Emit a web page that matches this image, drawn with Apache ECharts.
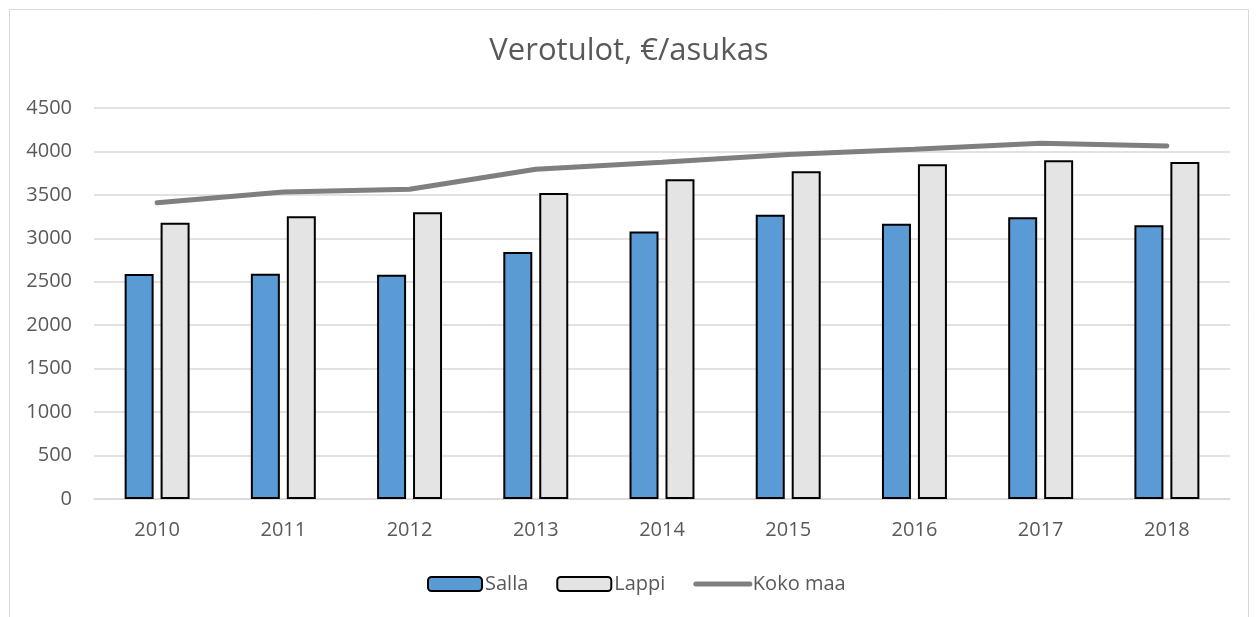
<!DOCTYPE html>
<html>
<head>
<meta charset="utf-8">
<script src="https://cdn.jsdelivr.net/npm/echarts@6/dist/echarts.min.js"></script>
<style>
  html, body { margin: 0; padding: 0; background: #fff; }
  #chart { width: 1258px; height: 617px; }
</style>
</head>
<body>
<div id="chart"></div>
<script>
// 数据
const years = ['2010', '2011', '2012', '2013', '2014', '2015', '2016', '2017', '2018']
const salla = [2590, 2592, 2581, 2842, 3080, 3272, 3168, 3242, 3150]
const lappi = [3180, 3253, 3300, 3522, 3680, 3772, 3852, 3899, 3879]
const kokoMaa = [3410, 3533, 3564, 3795, 3875, 3965, 4025, 4094, 4063]

const textColor = '#595959'
const font = '"Open Sans", Lato, "Liberation Sans", sans-serif'

const chart = echarts.init(document.getElementById('chart'))

const option = {
  animation: false,
  textStyle: { fontFamily: font },
  title: {
    text: 'Verotulot, €/asukas',
    left: 'center',
    top: 31,
    textStyle: { fontSize: 31, fontWeight: 'normal', color: textColor, fontFamily: font }
  },
  graphic: [
    {
      type: 'rect',
      shape: { x: 9.5, y: 9.5, width: 1239, height: 640 },
      style: { fill: 'none', stroke: '#d9d9d9', lineWidth: 1 },
      silent: true
    }
  ],
  legend: {
    top: 569,
    left: 422,
    itemWidth: 54,
    itemHeight: 14,
    itemGap: 28,
    textStyle: { fontSize: 20, color: textColor, fontFamily: font, padding: [0, 0, 0, -2] },
    data: [
      { name: 'Salla' },
      { name: 'Lappi' },
      // 折线图例只显示线段
      { name: 'Koko maa', itemStyle: { opacity: 0 }, lineStyle: { width: 5, color: '#7f7f7f', cap: 'round' } }
    ]
  },
  grid: {
    left: 94,
    right: 28,
    top: 108,
    bottom: 118
  },
  xAxis: {
    type: 'category',
    data: years,
    axisTick: { show: false },
    axisLine: { lineStyle: { color: '#d9d9d9', width: 1.5 } },
    axisLabel: { fontSize: 20, color: textColor, margin: 21, fontFamily: font }
  },
  yAxis: {
    type: 'value',
    min: 0,
    max: 4500,
    interval: 500,
    axisLine: { show: false },
    axisTick: { show: false },
    axisLabel: {
      fontSize: 20,
      color: textColor,
      margin: 22,
      fontFamily: font,
      formatter: (v) => String(v)
    },
    splitLine: { lineStyle: { color: '#d9d9d9', width: 1.5 } }
  },
  series: [
    {
      name: 'Salla',
      type: 'bar',
      data: salla,
      barWidth: 29,
      barGap: '24%',
      itemStyle: { color: '#5b9bd5', borderColor: '#000', borderWidth: 2 }
    },
    {
      name: 'Lappi',
      type: 'bar',
      data: lappi,
      barWidth: 29,
      itemStyle: { color: '#e4e4e4', borderColor: '#000', borderWidth: 2 }
    },
    {
      name: 'Koko maa',
      type: 'line',
      data: kokoMaa,
      symbol: 'none',
      lineStyle: { color: '#7f7f7f', width: 5, cap: 'round' },
      itemStyle: { color: '#7f7f7f' }
    }
  ]
}

chart.setOption(option)
</script>
</body>
</html>
